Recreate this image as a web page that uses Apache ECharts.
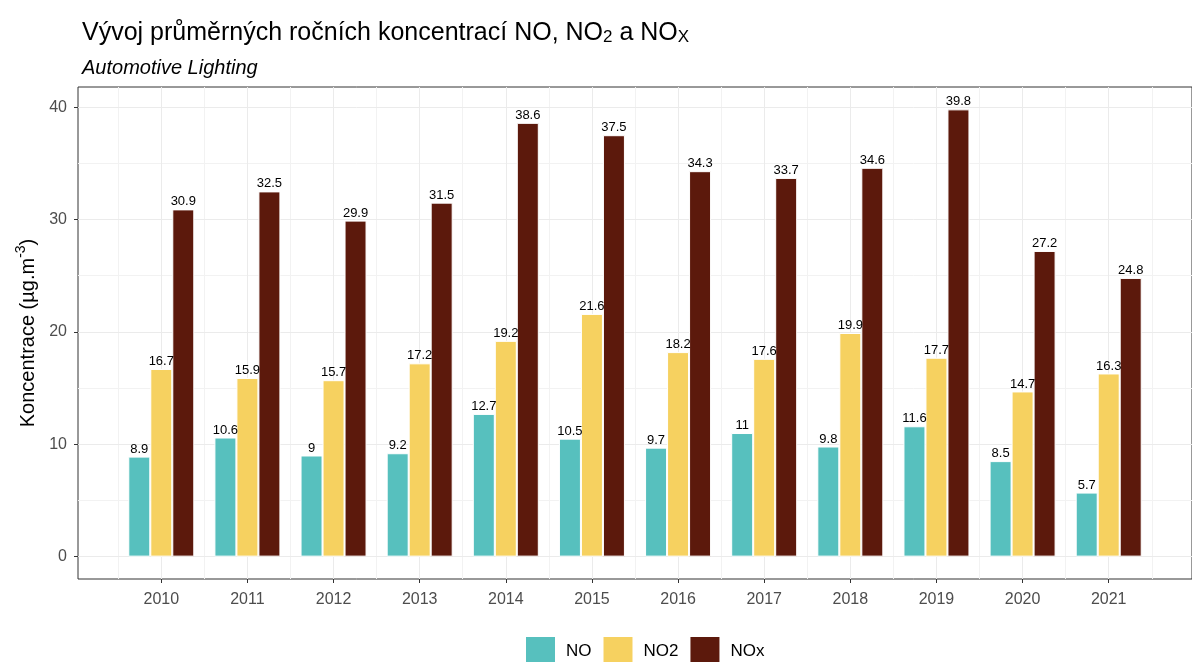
<!DOCTYPE html>
<html>
<head>
<meta charset="utf-8">
<script src="https://cdn.jsdelivr.net/npm/echarts@6/dist/echarts.min.js"></script>
<style>
  html, body { margin: 0; padding: 0; background: #fff; }
  #chart { width: 1192px; height: 662px; }
</style>
</head>
<body>
<div id="chart"></div>
<script>
// Annual mean concentrations, Automotive Lighting station
const years = [2010, 2011, 2012, 2013, 2014, 2015, 2016, 2017, 2018, 2019, 2020, 2021];
const valuesNO  = [8.9, 10.6, 9.0, 9.2, 12.7, 10.5, 9.7, 11.0, 9.8, 11.6, 8.5, 5.7];
const valuesNO2 = [16.7, 15.9, 15.7, 17.2, 19.2, 21.6, 18.2, 17.6, 19.9, 17.7, 14.7, 16.3];
const valuesNOx = [30.9, 32.5, 29.9, 31.5, 38.6, 37.5, 34.3, 33.7, 34.6, 39.8, 27.2, 24.8];
const yTicks = [0, 10, 20, 30, 40];
const yMinorTicks = [5, 15, 25, 35];

const seriesNames = ['NO', 'NO2', 'NOx'];
const seriesColors = ['#57C0BE', '#F6D160', '#5C190C'];
const seriesValues = [valuesNO, valuesNO2, valuesNOx];

const FONT = 'Liberation Sans, Arial, sans-serif';

// panel gridlines: major at years / y ticks, minor halfway between
const xMinorTicks = [years[0] - 0.5].concat(years.map(y => y + 0.5));
const gridLines = []
  .concat(yMinorTicks.map(v => ({ yAxis: v, lineStyle: { color: '#F2F2F2', width: 1 } })))
  .concat(xMinorTicks.map(v => ({ xAxis: v, lineStyle: { color: '#F2F2F2', width: 1 } })))
  .concat(yTicks.map(v => ({ yAxis: v, lineStyle: { color: '#EBEBEB', width: 1 } })))
  .concat(years.map(v => ({ xAxis: v, lineStyle: { color: '#EBEBEB', width: 1 } })));

const series = seriesNames.map((name, i) => ({
  name: name,
  type: 'bar',
  data: years.map((y, k) => [y, seriesValues[i][k]]),
  barWidth: 22,
  barGap: '0%',
  itemStyle: { color: seriesColors[i], borderColor: '#ffffff', borderWidth: 1 },
  label: {
    show: true,
    position: 'top',
    distance: 1,
    fontFamily: FONT,
    fontSize: 13,
    color: '#000',
    formatter: p => String(p.value[1])
  },
  emphasis: { disabled: true },
  z: 3
}));

// background grid of the panel
series.push({
  name: 'grid',
  type: 'line',
  data: [],
  silent: true,
  z: 1,
  markLine: {
    silent: true,
    symbol: 'none',
    z: 1,
    animation: false,
    label: { show: false },
    lineStyle: { type: 'solid' },
    data: gridLines
  }
});

const chart = echarts.init(document.getElementById('chart'), null, { renderer: 'canvas' });
chart.setOption({
  animation: false,
  backgroundColor: '#ffffff',
  textStyle: { fontFamily: FONT },
  title: [
    {
      left: 77,
      top: 11,
      text: '{a|Vývoj průměrných ročních koncentrací NO, NO}{s|2}{a| a NO}{s|X}',
      textStyle: {
        rich: {
          a: { fontFamily: FONT, fontSize: 25, fontWeight: 'normal', color: '#000', lineHeight: 30, verticalAlign: 'bottom' },
          s: { fontFamily: FONT, fontSize: 17, fontWeight: 'normal', color: '#000', lineHeight: 17, verticalAlign: 'bottom', padding: [9, 0, 0, 0] }
        }
      }
    },
    {
      left: 77,
      top: 53,
      text: 'Automotive Lighting',
      textStyle: { fontFamily: FONT, fontSize: 20, fontStyle: 'italic', fontWeight: 'normal', color: '#000' }
    }
  ],
  legend: {
    data: seriesNames,
    left: 521,
    top: 632,
    icon: 'rect',
    itemWidth: 29,
    itemHeight: 29,
    itemGap: 12,
    itemStyle: { borderWidth: 0 },
    textStyle: { fontFamily: FONT, fontSize: 17, color: '#000', padding: [2, 0, 0, 6] },
    selectedMode: false
  },
  grid: {
    left: 78,
    top: 87,
    width: 1124,
    height: 492,
    show: true,
    borderColor: '#333333',
    borderWidth: 1,
    backgroundColor: '#ffffff',
    containLabel: false
  },
  xAxis: {
    type: 'value',
    min: 2009.033,
    max: 2021.967,
    axisLine: { show: false, onZero: false },
    splitLine: { show: false },
    axisTick: { show: true, customValues: years, length: 4, lineStyle: { color: '#333333' } },
    axisLabel: {
      customValues: years,
      fontFamily: FONT,
      fontSize: 16,
      color: '#4D4D4D',
      margin: 13,
      formatter: v => String(v)
    }
  },
  yAxis: {
    type: 'value',
    min: -1.99,
    max: 41.79,
    name: '{a|Koncentrace (µg.m}{b|-3}{a|)}',
    nameLocation: 'middle',
    nameRotate: 90,
    nameGap: 39,
    nameTextStyle: {
      rich: {
        a: { fontFamily: FONT, fontSize: 20, color: '#000', lineHeight: 24, verticalAlign: 'bottom' },
        b: { fontFamily: FONT, fontSize: 14, color: '#000', lineHeight: 14, verticalAlign: 'top', padding: [0, 0, 10, 0] }
      }
    },
    axisLine: { show: false, onZero: false },
    splitLine: { show: false },
    axisTick: { show: true, customValues: yTicks, length: 4, lineStyle: { color: '#333333' } },
    axisLabel: {
      customValues: yTicks,
      fontFamily: FONT,
      fontSize: 16,
      color: '#4D4D4D',
      margin: 11
    }
  },
  series: series
});
</script>
</body>
</html>
